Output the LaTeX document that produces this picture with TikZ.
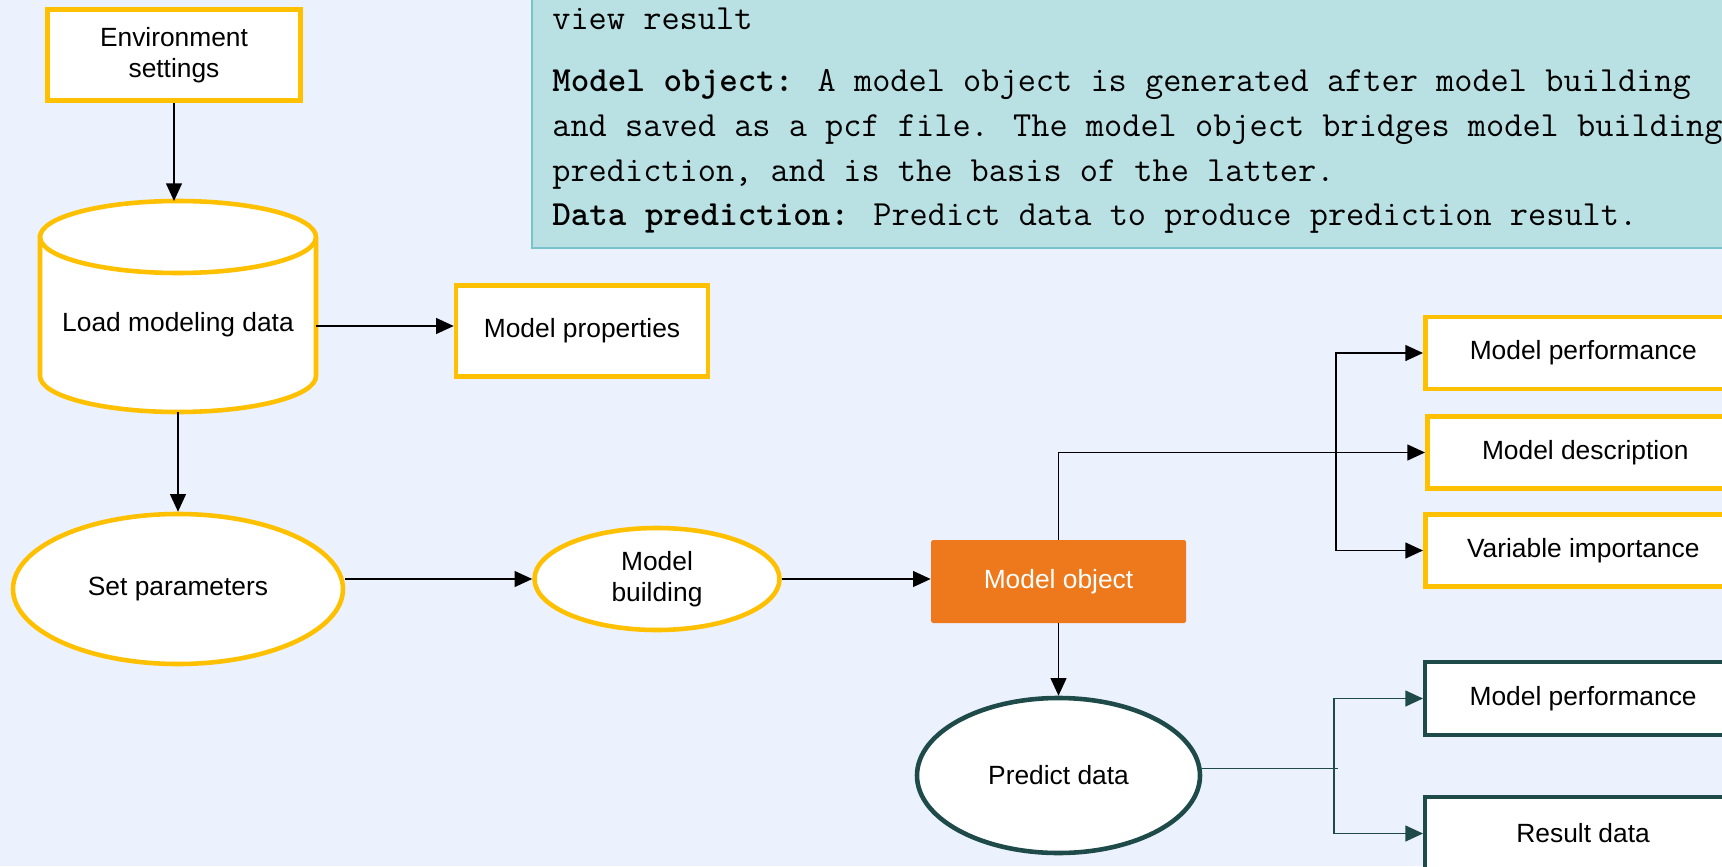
\documentclass[tikz,border=0pt]{standalone}
\usepackage{fontspec}
\setmainfont{Liberation Sans}
\usetikzlibrary{arrows.meta,shapes.geometric,positioning}
\definecolor{bgblue}{HTML}{EBF1FD}
\definecolor{boxyel}{HTML}{FFC000}
\definecolor{objorange}{HTML}{EE781C}
\definecolor{darkteal}{HTML}{1F4A4A}
\definecolor{notefill}{HTML}{B9E0E3}
\definecolor{noteline}{HTML}{79C4CC}
\tikzset{
  ybox/.style={draw=boxyel, line width=2.6pt, fill=white, minimum height=1.82cm, align=center},
  yell/.style={ellipse, draw=boxyel, line width=2.6pt, fill=white, inner sep=0pt, align=center},
  rbox/.style={ybox, anchor=west, minimum width=6.32cm, minimum height=1.44cm},
  tbox/.style={rbox, draw=darkteal, line width=2.4pt, minimum height=1.46cm},
  tell/.style={yell, draw=darkteal},
  tline/.style={darkteal, line width=0.8pt},
  arr/.style={-{Triangle[length=10pt,width=9pt]}, line width=0.9pt},
  notetext/.style={anchor=base west, inner sep=0pt, font=\ttfamily\fontsize{20.1pt}{25.2pt}\selectfont}
}

\begin{document}
\begin{tikzpicture}[font=\fontsize{15pt}{17.8pt}\selectfont]
\useasboundingbox (0,0) rectangle (34.44,-17.32);
\clip (0,0) rectangle (34.44,-17.32);
\fill[bgblue] (0,0) rectangle (34.44,-17.32);

% note at the top
\draw[noteline, fill=notefill, line width=0.8pt] (10.64,0.5) rectangle (35,-4.96);
\node[notetext] (note1) at (11.04,-0.60) {view result};
\node[notetext] (note2) at (11.04,-1.84) {\textbf{Model object:} A model object is generated after model building};
\node[notetext] (note3) at (11.04,-2.73) {and saved as a pcf file. The model object bridges model building};
\node[notetext] (note4) at (11.04,-3.62) {prediction, and is the basis of the latter.};
\node[notetext] (note5) at (11.04,-4.50) {\textbf{Data prediction:} Predict data to produce prediction result.};

% modeling
\node[ybox, minimum width=5.06cm] (env) at (3.48,-1.10) {Environment\\settings};

\coordinate (loadtop) at (3.56,-4.02);
\coordinate (loadbot) at (3.56,-8.24);
\coordinate (loadright) at (6.32,-6.52);
\filldraw[draw=boxyel, fill=white, line width=2.6pt] (0.80,-4.74) -- (0.80,-7.52)
  arc[start angle=180, end angle=360, x radius=2.76cm, y radius=0.72cm] -- (6.32,-4.74)
  arc[start angle=0, end angle=180, x radius=2.76cm, y radius=0.72cm] -- cycle;
\draw[boxyel, line width=2.6pt] (0.80,-4.74) arc[start angle=180, end angle=360, x radius=2.76cm, y radius=0.72cm];
\node (load) at (3.56,-6.50) {Load modeling data};

\node[ybox, minimum width=5.04cm] (props) at (11.64,-6.62) {Model properties};
\node[yell, minimum width=6.6cm, minimum height=3.0cm] (setp) at (3.56,-11.78) {Set parameters};
\node[yell, minimum width=4.9cm, minimum height=2.04cm] (build) at (13.14,-11.58) {Model\\building};
\node[fill=objorange, text=white, minimum width=5.1cm, minimum height=1.66cm, rounded corners=1pt] (obj) at (21.17,-11.63) {Model object};

\draw[arr] (env.south) -- (env.south |- loadtop);
\draw[arr] (loadright) -- (loadright -| props.west);
\draw[arr] (loadbot) -- (setp.north);
\draw[arr] (build.west -| setp.east) -- (build.west);
\draw[arr] (build.east) -- (build.east -| obj.west);

% model object results
\node[rbox] (perf) at (28.46,-7.06) {Model performance};
\node[rbox] (desc) at (28.50,-9.05) {Model description};
\node[rbox] (imp) at (28.46,-11.01) {Variable importance};
\coordinate (fork) at (26.72,-9.05);
\draw[arr] (obj.north) |- (desc.west);
\draw[arr] (fork) |- (perf.west);
\draw[arr] (fork) |- (imp.west);

% prediction
\node[tell, minimum width=5.66cm, minimum height=3.1cm] (pred) at (21.17,-15.51) {Predict data};
\node[tbox] (perf2) at (28.46,-13.97) {Model performance};
\node[tbox] (res) at (28.46,-16.67) {Result data};
\draw[arr] (obj.south) -- (pred.north);
\coordinate (fork2) at (26.68,-15.37);
\draw[tline] (fork2 -| pred.east) -- ([xshift=0.08cm]fork2);
\draw[tline, arr] (fork2) |- (perf2.west);
\draw[tline, arr] (fork2) |- (res.west);
\end{tikzpicture}
\end{document}
